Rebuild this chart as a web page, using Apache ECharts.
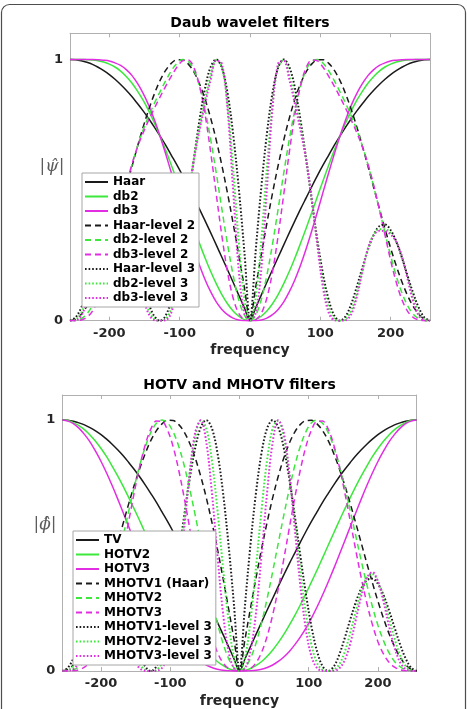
<!DOCTYPE html>
<html>
<head>
<meta charset="utf-8">
<script src="https://cdn.jsdelivr.net/npm/echarts@6/dist/echarts.min.js"></script>
<style>
html, body { margin: 0; padding: 0; background: #fff; }
#chart { width: 467px; height: 709px; }
</style>
</head>
<body>
<div id="chart"></div>
<script>
// the filters are even in frequency, so only 0..256 is listed and mirrored
var freqHalf = [0, 8, 16, 24, 32, 40, 48, 56, 64, 72, 80, 88, 96, 104, 112, 120, 128,
  136, 144, 152, 160, 168, 176, 184, 192, 200, 208, 216, 224, 232, 240, 248, 256];

// Daub wavelet filters
var haar = [0, .049, .098, .147, .195, .243, .290, .337, .383, .428, .471, .514, .556, .596, .634, .672, .707,
  .741, .773, .803, .831, .858, .882, .904, .924, .942, .957, .970, .981, .989, .995, .999, 1];
var db2 = [0, .004, .017, .037, .065, .100, .142, .189, .241, .297, .355, .415, .476, .537, .596, .653, .707,
  .757, .803, .844, .879, .910, .935, .955, .971, .982, .990, .995, .998, .999, 1, 1, 1];
var db3 = [0, 0, .003, .010, .023, .043, .072, .111, .158, .213, .276, .345, .418, .493, .567, .639, .707,
  .769, .824, .870, .908, .939, .961, .977, .987, .994, .997, .999, 1, 1, 1, 1, 1];
var haarL2 = [0, .127, .252, .373, .488, .594, .691, .776, .849, .908, .953, .983, .998, .999, .985, .958, .919,
  .868, .808, .741, .667, .589, .509, .429, .352, .278, .210, .149, .097, .055, .025, .006, 0];
var db2L2 = [0, .021, .080, .174, .293, .427, .565, .695, .809, .899, .961, .993, 1.000, .985, .956, .918, .876,
  .832, .784, .730, .668, .595, .513, .425, .335, .249, .171, .107, .058, .026, .008, .001, 0];
var db3L2 = [0, .004, .028, .087, .187, .325, .484, .646, .791, .901, .970, .998, .994, .970, .935, .897, .856,
  .813, .768, .719, .664, .598, .518, .426, .328, .231, .147, .081, .037, .013, .003, 0, 0];
var haarL3 = [0, .264, .508, .715, .872, .968, 1.000, .971, .889, .765, .616, .457, .306, .176, .079, .019, 0,
  .017, .064, .131, .205, .274, .329, .362, .368, .347, .303, .242, .173, .106, .050, .013, 0];
var db2L3 = [0, .084, .304, .583, .828, .972, .998, .939, .845, .740, .615, .460, .291, .144, .047, .006, 0,
  .006, .039, .107, .194, .276, .329, .350, .350, .336, .303, .244, .165, .087, .030, .004, 0];
var db3L3 = [0, .029, .195, .501, .812, .984, .995, .922, .828, .726, .613, .465, .285, .123, .030, .002, 0,
  .002, .025, .092, .190, .279, .328, .344, .343, .330, .302, .247, .161, .074, .019, .001, 0];

// HOTV and MHOTV filters
var tv = haar;
var hotv2 = [0, .002, .010, .022, .038, .059, .084, .113, .146, .183, .222, .264, .309, .355, .402, .451, .500,
  .549, .598, .645, .691, .736, .778, .817, .854, .887, .916, .941, .962, .978, .990, .998, 1];
var hotv3 = [0, 0, .001, .003, .007, .014, .024, .038, .056, .078, .105, .136, .171, .211, .255, .303, .354,
  .407, .462, .518, .575, .631, .686, .739, .789, .835, .876, .913, .943, .968, .986, .996, 1];
var mhotv1 = haarL2;
var mhotv2 = [0, .013, .051, .112, .193, .290, .397, .510, .621, .726, .820, .897, .954, .989, 1.000, .987, .951,
  .894, .821, .734, .638, .538, .438, .344, .257, .182, .121, .073, .038, .017, .005, .001, 0];
var mhotv3 = [0, .001, .010, .033, .075, .139, .224, .328, .446, .570, .692, .803, .895, .960, .995, .996, .965,
  .903, .817, .712, .598, .481, .370, .270, .185, .117, .068, .035, .015, .005, .001, 0, 0];
var mhotv1L3 = haarL3;
var mhotv2L3 = [0, .054, .204, .417, .646, .843, .968, .998, .932, .787, .596, .399, .227, .103, .032, .004, 0,
  .004, .026, .076, .152, .239, .319, .372, .386, .357, .294, .211, .129, .062, .020, .003, 0];
var mhotv3L3 = [0, .011, .080, .236, .466, .715, .913, .999, .950, .787, .562, .338, .164, .058, .012, .001, 0,
  .001, .010, .043, .109, .203, .300, .372, .394, .357, .277, .179, .093, .035, .008, .001, 0];

var xTicks = [-200, -100, 0, 100, 200];
var yTicks = [0, 1];

var topNames = ['Haar', 'db2', 'db3', 'Haar-level 2', 'db2-level 2', 'db3-level 2',
  'Haar-level 3', 'db2-level 3', 'db3-level 3'];
var topData = [haar, db2, db3, haarL2, db2L2, db3L2, haarL3, db2L3, db3L3];
var botNames = ['TV', 'HOTV2', 'HOTV3', 'MHOTV1 (Haar)', 'MHOTV2', 'MHOTV3',
  'MHOTV1-level 3', 'MHOTV2-level 3', 'MHOTV3-level 3'];
var botData = [tv, hotv2, hotv3, mhotv1, mhotv2, mhotv3, mhotv1L3, mhotv2L3, mhotv3L3];

var colors = ['#1a1a1a', '#3be83b', '#e22ee2'];
var styles = [
  { type: 'solid', width: 1.5 },
  { type: [6, 4], width: 1.5 },
  { type: [1.6, 2], width: 2 }
];
var font = 'DejaVu Sans';
var axisGray = '#b0b0b0';

function mirror(vals) {
  var pts = [];
  for (var i = freqHalf.length - 1; i > 0; i--) pts.push([-freqHalf[i], vals[i]]);
  for (var j = 0; j < freqHalf.length; j++) pts.push([freqHalf[j], vals[j]]);
  return pts;
}

function makeSeries(names, data, gi) {
  return names.map(function (name, i) {
    var col = colors[i % 3];
    var st = styles[Math.floor(i / 3)];
    return {
      name: name,
      type: 'line',
      xAxisIndex: gi * 2,
      yAxisIndex: gi * 2,
      data: mirror(data[i]),
      symbol: 'none',
      showSymbol: false,
      smooth: 0.35,
      animation: false,
      itemStyle: { color: col },
      lineStyle: { color: col, width: st.width, type: st.type }
    };
  });
}

function xAxes(gi) {
  var base = {
    type: 'value', gridIndex: gi, min: -256, max: 256,
    axisLine: { show: true, onZero: false, lineStyle: { color: axisGray } },
    axisTick: { show: true, inside: true, length: 4, customValues: xTicks, lineStyle: { color: axisGray } },
    splitLine: { show: false }
  };
  var bottom = Object.assign({}, base, {
    position: 'bottom',
    axisLabel: { customValues: xTicks, margin: 6, color: '#262626', fontFamily: font, fontSize: 13, fontWeight: 'bold' },
    name: 'frequency', nameLocation: 'middle', nameGap: 23,
    nameTextStyle: { color: '#262626', fontFamily: font, fontSize: 14, fontWeight: 'bold' }
  });
  var top = Object.assign({}, base, { position: 'top', axisLabel: { show: false } });
  return [bottom, top];
}

function yAxes(gi) {
  var base = {
    type: 'value', gridIndex: gi, min: 0, max: 1.1,
    axisLine: { show: true, onZero: false, lineStyle: { color: axisGray } },
    axisTick: { show: true, inside: true, length: 4, customValues: yTicks, lineStyle: { color: axisGray } },
    splitLine: { show: false }
  };
  var left = Object.assign({}, base, {
    position: 'left',
    axisLabel: { customValues: yTicks, margin: 7, color: '#262626', fontFamily: font, fontSize: 13, fontWeight: 'bold' }
  });
  var right = Object.assign({}, base, { position: 'right', axisLabel: { show: false } });
  return [left, right];
}

function legend(names, left, top) {
  return {
    orient: 'vertical', left: left, top: top, data: names,
    itemWidth: 23, itemHeight: 14, itemGap: 0.5,
    padding: [2, 4, 2, 2],
    borderColor: '#a6a6a6', borderWidth: 1, backgroundColor: '#fff',
    selectedMode: false,
    // hide the marker circle, keep only the line sample
    itemStyle: { color: 'rgba(0,0,0,0)', borderWidth: 0, opacity: 0 },
    textStyle: { fontFamily: font, fontSize: 12, fontWeight: 'bold', color: '#000', lineHeight: 14 }
  };
}

function label(text, x, y, f, color) {
  return {
    type: 'text', x: x, y: y, z: 10,
    style: { text: text, font: f, fill: color, align: 'center', verticalAlign: 'middle',
      textAlign: 'center', textVerticalAlign: 'middle' }
  };
}

var chart = echarts.init(document.getElementById('chart'));

var option = {
  animation: false,
  backgroundColor: '#fff',
  grid: [
    { left: 70, top: 33.3, width: 360, height: 287.4 },
    { left: 62.3, top: 395, width: 354.4, height: 279.3 }
  ],
  xAxis: xAxes(0).concat(xAxes(1)),
  yAxis: yAxes(0).concat(yAxes(1)),
  legend: [legend(topNames, 82, 173), legend(botNames, 73, 531)],
  series: makeSeries(topNames, topData, 0).concat(makeSeries(botNames, botData, 1)),
  graphic: [
    {
      type: 'rect', z: 0,
      shape: { x: 1.5, y: 4.5, width: 464, height: 740, r: 8 },
      style: { fill: 'none', stroke: '#4d4d4d', lineWidth: 1.2 }
    },
    label('Daub wavelet filters', 250, 23.5, 'bold 14px "DejaVu Sans"', '#000'),
    label('HOTV and MHOTV filters', 239.5, 385, 'bold 14px "DejaVu Sans"', '#000'),
    label('|\u03c8\u0302|', 52, 167, 'italic 17px "DejaVu Serif"', '#5c5c5c'),
    label('|\u03d5\u0302|', 45, 525, 'italic 17px "DejaVu Serif"', '#5c5c5c')
  ]
};

chart.setOption(option);
</script>
</body>
</html>
